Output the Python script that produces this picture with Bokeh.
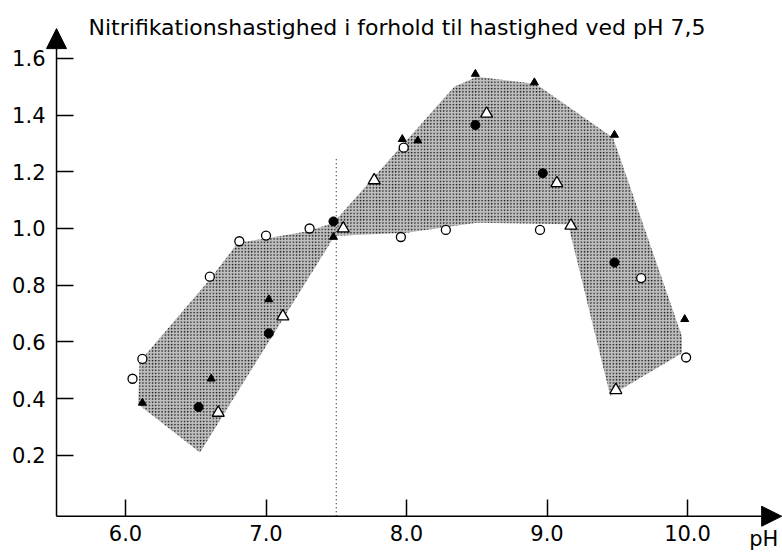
from bokeh.plotting import figure
from bokeh.models import Arrow, NormalHead, Label, FixedTicker
from bokeh.embed import file_html
from bokeh.resources import INLINE

# ---------------- data ----------------
title_text = "Nitrifikationshastighed i forhold til hastighed ved pH 7,5"
x_label_text = "pH"

x_ticks = [6.0, 7.0, 8.0, 9.0, 10.0]
x_tick_labels = ["6.0", "7.0", "8.0", "9.0", "10.0"]
y_ticks = [0.2, 0.4, 0.6, 0.8, 1.0, 1.2, 1.4, 1.6]
y_tick_labels = ["0.2", "0.4", "0.6", "0.8", "1.0", "1.2", "1.4", "1.6"]

ref_ph = 7.5
ref_top = 1.25

# shaded envelope of the measurements
band_ph = [6.09, 6.10, 6.60, 6.80, 7.00, 7.30, 7.48, 8.34, 8.50, 8.92, 9.47,
           9.96, 9.96, 9.45, 9.15, 8.50, 8.00, 7.55, 7.49, 6.53]
band_v = [0.38, 0.53, 0.82, 0.95, 0.965, 0.99, 1.02, 1.50, 1.535, 1.51, 1.32,
          0.62, 0.56, 0.41, 1.015, 1.02, 0.985, 0.975, 0.975, 0.21]

open_circle_ph = [6.05, 6.12, 6.60, 6.81, 7.00, 7.31, 7.96, 7.98, 8.28, 8.95, 9.67, 9.99]
open_circle_v = [0.47, 0.54, 0.83, 0.955, 0.975, 1.00, 0.97, 1.285, 0.995, 0.995, 0.825, 0.545]

solid_circle_ph = [6.52, 7.02, 7.48, 8.49, 8.97, 9.48]
solid_circle_v = [0.37, 0.63, 1.025, 1.365, 1.195, 0.88]

solid_tri_ph = [6.12, 6.61, 7.02, 7.48, 7.97, 8.08, 8.49, 8.91, 9.48, 9.98]
solid_tri_v = [0.385, 0.47, 0.75, 0.97, 1.315, 1.31, 1.545, 1.515, 1.33, 0.68]

open_tri_ph = [6.66, 7.12, 7.55, 7.77, 8.57, 9.07, 9.17, 9.49]
open_tri_v = [0.35, 0.69, 1.00, 1.17, 1.405, 1.16, 1.01, 0.43]

# ---------------- figure ----------------
X0, X1 = 5.1103, 10.676      # frame spans the whole figure
Y0, Y1 = -0.1429, 1.8042
AX_X = 5.509                  # where the vertical axis sits
AX_Y = -0.015                 # where the horizontal axis sits
Y_TIP = 1.705
FONT = "DejaVu Sans"

p = figure(width=782, height=552, x_range=(X0, X1), y_range=(Y0, Y1),
           output_backend="svg", toolbar_location=None,
           min_border_left=0, min_border_right=0, min_border_top=0,
           min_border_bottom=0)
p.outline_line_color = None
p.grid.visible = False
p.background_fill_color = "white"

# x axis
xa = p.xaxis[0]
xa.fixed_location = AX_Y
xa.ticker = FixedTicker(ticks=x_ticks)
xa.major_label_overrides = {t: s for t, s in zip(x_ticks, x_tick_labels)}
xa.minor_tick_line_color = None
xa.major_tick_in = 17
xa.major_tick_out = 0
xa.major_tick_line_width = 1.5
xa.major_tick_line_color = "black"
xa.axis_line_color = None
xa.major_label_text_font = FONT
xa.major_label_text_font_size = "21px"
xa.major_label_text_color = "black"
xa.major_label_standoff = 9

# y axis
ya = p.yaxis[0]
ya.fixed_location = AX_X
ya.ticker = FixedTicker(ticks=y_ticks)
ya.major_label_overrides = {t: s for t, s in zip(y_ticks, y_tick_labels)}
ya.minor_tick_line_color = None
ya.major_tick_in = 17
ya.major_tick_out = 0
ya.major_tick_line_width = 1.5
ya.major_tick_line_color = "black"
ya.axis_line_color = None
ya.major_label_text_font = FONT
ya.major_label_text_font_size = "21px"
ya.major_label_text_color = "black"
ya.major_label_standoff = 11

# shaded band
p.patch(band_ph, band_v, fill_color="#c0c0c0", line_color=None,
        hatch_pattern=".", hatch_color="#111111", hatch_scale=3.2, hatch_weight=1)

# dotted reference line
p.segment(x0=[ref_ph], y0=[AX_Y], x1=[ref_ph], y1=[ref_top],
          line_color="black", line_width=1, line_dash="1 3")

# markers
p.scatter(open_circle_ph, open_circle_v, marker="circle", size=9,
          fill_color="white", line_color="black", line_width=1.3)
p.scatter(solid_circle_ph, solid_circle_v, marker="circle", size=9,
          fill_color="black", line_color="black")
p.scatter(solid_tri_ph, solid_tri_v, marker="triangle", size=8,
          fill_color="black", line_color="black")
p.scatter(open_tri_ph, open_tri_v, marker="triangle", size=12,
          fill_color="white", line_color="black", line_width=1.3)

# axis lines with arrow heads
p.add_layout(Arrow(end=NormalHead(size=20, fill_color="black", line_color="black",
                                  line_width=1),
                   x_start=AX_X, y_start=AX_Y, x_end=AX_X, y_end=Y_TIP,
                   line_width=1.5, line_color="black"))
p.add_layout(Arrow(end=NormalHead(size=20, fill_color="black", line_color="black",
                                  line_width=1),
                   x_start=AX_X, y_start=AX_Y, x_end=X1 - 0.006, y_end=AX_Y,
                   line_width=1.5, line_color="black"))

# title and axis name
p.add_layout(Label(x=5.737, y=1.709, text=title_text, text_font=FONT,
                   text_font_size="22px", text_color="black",
                   text_baseline="alphabetic", text_align="left"))
p.add_layout(Label(x=10.646, y=-0.095, text=x_label_text, text_font=FONT,
                   text_font_size="21px", text_color="black",
                   text_baseline="alphabetic", text_align="right"))

open("out.html", "w").write(file_html(p, INLINE))
